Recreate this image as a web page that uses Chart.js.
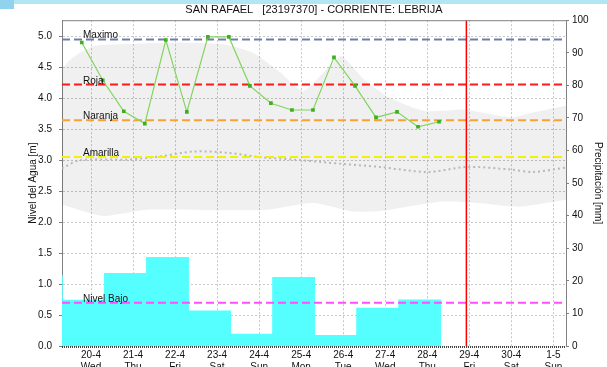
<!DOCTYPE html>
<html>
<head>
<meta charset="utf-8">
<script src="https://cdn.jsdelivr.net/npm/chart.js@4.4.0/dist/chart.umd.min.js"></script>
<style>
  html, body { margin: 0; padding: 0; background: #fff; overflow: hidden; }
  #wrap { position: absolute; left: 0; top: 0; width: 607px; height: 380px; }
  #strip { position: absolute; left: 0; top: 0; width: 607px; height: 4px; background: #b3e6f5; }
  #corner { position: absolute; left: 0; top: 0; width: 14px; height: 9px; background: #8fd3ee; }
</style>
</head>
<body>
<div id="wrap"><canvas id="chart"></canvas></div>
<div id="strip"></div>
<div id="corner"></div>
<script>
// days on the x axis (0 = 20-4)
const dayLabels = ['20-4', '21-4', '22-4', '23-4', '24-4', '25-4', '26-4', '27-4', '28-4', '29-4', '30-4', '1-5'];
const weekDays = ['Wed', 'Thu', 'Fri', 'Sat', 'Sun', 'Mon', 'Tue', 'Wed', 'Thu', 'Fri', 'Sat', 'Sun'];
const xMin = -0.69, xMax = 11.3;

const levelTicks = [0, 0.5, 1, 1.5, 2, 2.5, 3, 3.5, 4, 4.5, 5];
const levelMax = 5.26;
const rainTicks = [0, 10, 20, 30, 40, 50, 60, 70, 80, 90, 100];

// water level readings [m]
const levelDays = [-0.22, 0.28, 0.78, 1.28, 1.78, 2.28, 2.78, 3.28, 3.78, 4.28, 4.78, 5.28, 5.78, 6.28, 6.78, 7.28, 7.78, 8.28];
const levelValues = [4.90, 4.29, 3.79, 3.59, 4.94, 3.78, 4.99, 4.99, 4.20, 3.92, 3.81, 3.81, 4.66, 4.20, 3.69, 3.78, 3.54, 3.62];

// daily rain [mm], each value holds until the next day
const rainDays = [-0.69, -0.67, 0.31, 1.31, 2.33, 3.33, 4.31, 5.33, 6.31, 7.31, 8.33];
const rainValues = [21.7, 14.2, 22.4, 27.3, 10.9, 3.75, 21.2, 3.4, 11.75, 14.3, 0];

// historical envelope and median [m]
const bandUpperDays = [-0.69, -0.45, 0.05, 1.0, 2.0, 3.0, 3.3, 3.9, 4.5, 5.05, 5.6, 5.95, 6.5, 7.1, 7.65, 8.0, 8.9, 9.3, 10.0, 10.5, 11.3];
const bandUpperValues = [4.48, 4.65, 4.84, 4.88, 4.90, 4.88, 4.85, 4.72, 4.42, 4.12, 4.47, 4.68, 4.30, 4.01, 3.85, 3.79, 3.82, 3.77, 3.69, 3.77, 3.88];
const bandLowerDays = [-0.69, 0.29, 1.33, 3.07, 4.19, 5.29, 6.24, 6.88, 8.31, 9.19, 10.21, 11.3];
const bandLowerValues = [2.28, 2.10, 2.20, 2.19, 2.20, 2.31, 2.17, 2.18, 2.33, 2.31, 2.25, 2.36];
const medianDays = [-0.69, -0.26, 0.86, 1.64, 2.43, 3.24, 4.02, 4.81, 5.98, 6.88, 8.0, 8.95, 9.98, 10.52, 11.3];
const medianValues = [2.87, 3.00, 3.01, 3.06, 3.14, 3.12, 3.05, 3.01, 2.94, 2.89, 2.81, 2.89, 2.85, 2.81, 2.88];

// alert levels [m]
const thresholdNames = ['Maximo', 'Roja', 'Naranja', 'Amarilla', 'Nivel Bajo'];
const thresholdValues = [4.95, 4.22, 3.645, 3.05, 0.70];

const nowDay = 8.93;

const thresholdColors = ['#6d7ea6', '#ff1a1a', '#f7a232', '#f2f200', '#ff4dff'];
const font = '"Liberation Sans", Arial, sans-serif';
const pts = (xs, ys) => xs.map((x, i) => ({x: x, y: ys[i]}));

const thresholdSets = thresholdValues.map((v, i) => ({
    data: [{x: xMin, y: v}, {x: xMax, y: v}],
    borderColor: thresholdColors[i],
    borderWidth: 2,
    borderDash: [8, 4],
    pointRadius: 0
}));

const overlay = {
    id: 'overlay',
    afterDatasetsDraw(chart) {
        const {ctx, chartArea: a, scales} = chart;
        ctx.save();
        ctx.font = '10px ' + font;
        ctx.fillStyle = '#111';
        ctx.textBaseline = 'alphabetic';
        thresholdNames.forEach((name, i) => {
            ctx.fillText(name, a.left + 21, scales.y.getPixelForValue(thresholdValues[i]) - 1);
        });
        // frame top
        ctx.strokeStyle = '#808080';
        ctx.lineWidth = 1;
        ctx.beginPath();
        ctx.moveTo(a.left, a.top + 0.5);
        ctx.lineTo(a.right, a.top + 0.5);
        ctx.stroke();
        // dotted bottom axis
        ctx.strokeStyle = '#444';
        ctx.lineWidth = 2;
        ctx.setLineDash([1, 1]);
        ctx.beginPath();
        ctx.moveTo(a.left, a.bottom + 1);
        ctx.lineTo(a.right, a.bottom + 1);
        ctx.stroke();
        ctx.restore();
    }
};

new Chart(document.getElementById('chart'), {
    type: 'line',
    data: {
        datasets: [
            {
                data: pts(levelDays, levelValues),
                borderColor: '#82d45e',
                borderWidth: 1.2,
                pointStyle: 'rect',
                pointRadius: 2.6,
                pointBorderWidth: 0,
                pointBackgroundColor: '#3fae1f'
            },
            {
                data: [{x: nowDay, y: 0}, {x: nowDay, y: levelMax}],
                borderColor: '#ff0000',
                borderWidth: 1.5,
                pointRadius: 0
            },
            ...thresholdSets,
            {
                data: pts(medianDays, medianValues),
                borderColor: '#b8b8b8',
                borderWidth: 2,
                borderDash: [2, 3],
                tension: 0.3,
                pointRadius: 0
            },
            {
                data: pts(rainDays, rainValues),
                yAxisID: 'y2',
                stepped: 'before',
                fill: 'origin',
                backgroundColor: '#55ffff',
                borderColor: 'transparent',
                borderWidth: 0,
                pointRadius: 0
            },
            {
                data: pts(bandUpperDays, bandUpperValues),
                fill: '+1',
                backgroundColor: 'rgba(0,0,0,0.06)',
                borderColor: 'transparent',
                borderWidth: 0,
                tension: 0.2,
                pointRadius: 0
            },
            {
                data: pts(bandLowerDays, bandLowerValues),
                borderColor: 'transparent',
                borderWidth: 0,
                tension: 0.2,
                pointRadius: 0
            }
        ]
    },
    options: {
        responsive: true,
        maintainAspectRatio: false,
        animation: false,
        plugins: {
            legend: {display: false},
            tooltip: {enabled: false},
            title: {
                display: true,
                text: 'SAN RAFAEL   [23197370] - CORRIENTE: LEBRIJA',
                fullSize: false,
                color: '#111',
                font: {family: font, size: 11, weight: 'normal'},
                padding: {top: 3, bottom: 4}
            }
        },
        scales: {
            x: {
                type: 'linear',
                min: xMin,
                max: xMax,
                afterBuildTicks: s => { s.ticks = dayLabels.map((_, i) => ({value: i})); },
                afterFit: s => { s.height = 34; },
                ticks: {
                    autoSkip: false,
                    maxRotation: 0,
                    padding: 3,
                    color: '#111',
                    font: {family: font, size: 10},
                    callback: v => [dayLabels[Math.round(v)], weekDays[Math.round(v)]]
                },
                grid: {color: '#c6c6c6', drawTicks: false},
                border: {display: false, dash: [2, 2]}
            },
            y: {
                position: 'left',
                min: 0,
                max: levelMax,
                afterBuildTicks: s => { s.ticks = levelTicks.map(v => ({value: v})); },
                afterFit: s => { s.width = 62; },
                ticks: {padding: 7, color: '#111', font: {family: font, size: 10}, callback: v => v.toFixed(1)},
                grid: {color: '#c6c6c6', tickLength: 3, tickColor: '#808080', tickBorderDash: []},
                border: {color: '#808080', dash: [2, 2]},
                title: {
                    display: true,
                    text: 'Nivel del Agua [m]',
                    color: '#111',
                    font: {family: font, size: 10},
                    padding: {top: 27, bottom: 0}
                }
            },
            y2: {
                position: 'right',
                min: 0,
                max: 100,
                afterBuildTicks: s => { s.ticks = rainTicks.map(v => ({value: v})); },
                afterFit: s => { s.width = 41; },
                ticks: {padding: 3, color: '#111', font: {family: font, size: 10}},
                grid: {drawOnChartArea: false, tickLength: 3, tickColor: '#808080', tickBorderDash: []},
                border: {color: '#808080'},
                title: {
                    display: true,
                    text: 'Precipitación [mm]',
                    color: '#111',
                    font: {family: font, size: 10},
                    padding: {top: 3, bottom: 0}
                }
            }
        }
    },
    plugins: [overlay]
});
</script>
</body>
</html>
